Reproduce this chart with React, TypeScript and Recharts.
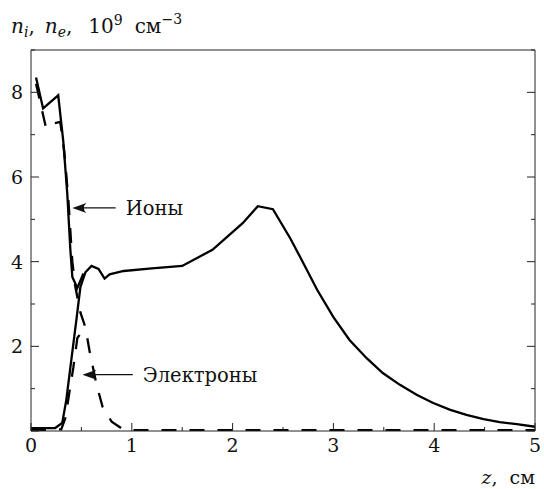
import { LineChart, Line, XAxis, YAxis, ReferenceLine } from "recharts";

// ion density, first (left) branch
const ionsLeft = [
  { x: 0.05, y: 8.35 }, { x: 0.12, y: 7.62 }, { x: 0.27, y: 7.93 }, { x: 0.32, y: 6.85 },
  { x: 0.36, y: 5.6 }, { x: 0.39, y: 4.3 }, { x: 0.41, y: 3.64 }, { x: 0.46, y: 3.38 },
  { x: 0.52, y: 3.72 },
];

// ion density, main branch
const ionsMain = [
  { x: 0, y: 0.07 }, { x: 0.24, y: 0.07 }, { x: 0.31, y: 0.19 }, { x: 0.35, y: 0.73 },
  { x: 0.4, y: 1.68 }, { x: 0.45, y: 2.62 }, { x: 0.49, y: 3.4 }, { x: 0.54, y: 3.75 },
  { x: 0.6, y: 3.9 }, { x: 0.67, y: 3.83 }, { x: 0.73, y: 3.6 }, { x: 0.78, y: 3.7 },
  { x: 0.92, y: 3.78 }, { x: 1.2, y: 3.84 }, { x: 1.5, y: 3.9 }, { x: 1.8, y: 4.28 },
  { x: 2.1, y: 4.91 }, { x: 2.25, y: 5.31 }, { x: 2.4, y: 5.24 }, { x: 2.57, y: 4.56 },
  { x: 2.67, y: 4.11 }, { x: 2.84, y: 3.33 }, { x: 3.0, y: 2.69 }, { x: 3.16, y: 2.15 },
  { x: 3.33, y: 1.72 }, { x: 3.49, y: 1.37 }, { x: 3.66, y: 1.09 }, { x: 3.83, y: 0.85 },
  { x: 3.99, y: 0.66 }, { x: 4.16, y: 0.5 }, { x: 4.32, y: 0.38 }, { x: 4.49, y: 0.28 },
  { x: 4.65, y: 0.21 }, { x: 4.82, y: 0.16 }, { x: 5.0, y: 0.1 },
];

// electron density, main branch
const electronsMain = [
  { x: 0.05, y: 8.2 }, { x: 0.15, y: 7.15 }, { x: 0.2, y: 7.25 }, { x: 0.29, y: 7.3 },
  { x: 0.33, y: 6.6 }, { x: 0.37, y: 5.5 }, { x: 0.41, y: 4.0 }, { x: 0.44, y: 3.4 },
  { x: 0.49, y: 2.8 }, { x: 0.54, y: 2.45 }, { x: 0.58, y: 1.9 }, { x: 0.65, y: 1.1 },
  { x: 0.71, y: 0.57 }, { x: 0.8, y: 0.22 }, { x: 0.92, y: 0.03 }, { x: 1.0, y: 0.02 },
  { x: 5.0, y: 0.02 },
];

// electron density, rising branch
const electronsRise = [
  { x: 0, y: 0.02 }, { x: 0.3, y: 0.04 }, { x: 0.34, y: 0.3 }, { x: 0.37, y: 0.75 },
  { x: 0.42, y: 1.5 }, { x: 0.46, y: 2.2 }, { x: 0.54, y: 2.45 },
];

const xTicks = [0, 0.5, 1, 1.5, 2, 2.5, 3, 3.5, 4, 4.5, 5];
const yTicks = [0, 1, 2, 3, 4, 5, 6, 7, 8, 9];
const yLabels = [2, 4, 6, 8];

const FONT = "'DejaVu Serif', serif";

const isMajor = (v: number) => v % 1 === 0;

const BottomTick = ({ x, y, payload }: any) => (
  <g>
    <line x1={x} y1={y} x2={x} y2={y - (isMajor(payload.value) ? 8 : 4)} stroke="#222" />
    {isMajor(payload.value) && (
      <text x={x} y={y + 21} textAnchor="middle" fontFamily={FONT} fontSize={19} fill="#111">
        {payload.value}
      </text>
    )}
  </g>
);

const TopTick = ({ x, y, payload }: any) => (
  <line x1={x} y1={y} x2={x} y2={y + (isMajor(payload.value) ? 8 : 4)} stroke="#222" />
);

const LeftTick = ({ x, y, payload }: any) => (
  <g>
    <line x1={x} y1={y} x2={x + (payload.value % 2 === 0 ? 8 : 4)} y2={y} stroke="#222" />
    {yLabels.includes(payload.value) && (
      <text x={x - 8} y={y + 7} textAnchor="end" fontFamily={FONT} fontSize={19} fill="#111">
        {payload.value}
      </text>
    )}
  </g>
);

const RightTick = ({ x, y, payload }: any) => (
  <line x1={x} y1={y} x2={x - (payload.value % 2 === 0 ? 8 : 4)} y2={y} stroke="#222" />
);

const Arrow = (text: string) => (props: any) => {
  const { x1, y1, x2 } = props;
  return (
    <g>
      <line x1={x1 + 8} y1={y1} x2={x2} y2={y1} stroke="#111" strokeWidth={1.3} />
      <path
        d={`M${x1},${y1} L${x1 + 14},${y1 - 5} Q${x1 + 9},${y1} ${x1 + 14},${y1 + 5} Z`}
        fill="#111"
      />
      <text x={x2 + 10} y={y1 + 7} fontFamily={FONT} fontSize={19.5} fill="#111">
        {text}
      </text>
    </g>
  );
};

const TitleLabel = ({ viewBox }: any) => (
  <text x={viewBox.x - 19} y={viewBox.y - 17} fontFamily={FONT} fontSize={20} fill="#111">
    <tspan fontStyle="italic">n</tspan>
    <tspan fontStyle="italic" fontSize={14} dy={4}>i</tspan>
    <tspan dy={-4}>,</tspan>
    <tspan fontStyle="italic" dx={10}>n</tspan>
    <tspan fontStyle="italic" fontSize={14} dy={4}>e</tspan>
    <tspan dy={-4}>,</tspan>
    <tspan dx={16}>10</tspan>
    <tspan fontSize={14} dy={-8}>9</tspan>
    <tspan dy={8} dx={12}>см</tspan>
    <tspan fontSize={14} dy={-9}>−3</tspan>
  </text>
);

const ZLabel = ({ viewBox }: any) => (
  <text x={viewBox.x + viewBox.width} y={viewBox.y + 53} textAnchor="end" fontFamily={FONT} fontSize={19} fill="#111">
    <tspan fontStyle="italic">z</tspan>
    <tspan>,</tspan>
    <tspan dx={12}>см</tspan>
  </text>
);

export default function App() {
  return (
    <div style={{ position: "absolute", left: 0, top: 0, background: "#fff" }}>
      <LineChart width={544} height={489} margin={{ top: 49, right: 8, bottom: 57, left: 30 }}>
        <XAxis
          dataKey="x"
          type="number"
          domain={[0, 5]}
          ticks={xTicks}
          allowDataOverflow
          height={1}
          tickSize={0}
          tickMargin={0}
          tickLine={false}
          axisLine={{ stroke: "#222" }}
          tick={BottomTick}
          interval={0}
          label={<ZLabel />}
        />
        <XAxis
          xAxisId="top"
          orientation="top"
          type="number"
          domain={[0, 5]}
          ticks={xTicks}
          allowDataOverflow
          height={1}
          tickSize={0}
          tickMargin={0}
          tickLine={false}
          axisLine={{ stroke: "#222" }}
          tick={TopTick}
          interval={0}
        />
        <YAxis
          type="number"
          domain={[0, 9]}
          ticks={yTicks}
          allowDataOverflow
          width={1}
          tickSize={0}
          tickMargin={0}
          tickLine={false}
          axisLine={{ stroke: "#222" }}
          tick={LeftTick}
          interval={0}
          label={<TitleLabel />}
        />
        <YAxis
          yAxisId="right"
          orientation="right"
          type="number"
          domain={[0, 9]}
          ticks={yTicks}
          allowDataOverflow
          width={1}
          tickSize={0}
          tickMargin={0}
          tickLine={false}
          axisLine={{ stroke: "#222" }}
          tick={RightTick}
          interval={0}
        />
        <Line data={electronsMain} dataKey="y" type="linear" stroke="#000" strokeWidth={2.3} strokeDasharray="15 13" dot={false} isAnimationActive={false} />
        <Line data={electronsRise} dataKey="y" type="linear" stroke="#000" strokeWidth={2.3} strokeDasharray="15 13" dot={false} isAnimationActive={false} />
        <Line data={ionsLeft} dataKey="y" type="linear" stroke="#000" strokeWidth={2.3} dot={false} isAnimationActive={false} />
        <Line data={ionsMain} dataKey="y" type="linear" stroke="#000" strokeWidth={2.3} dot={false} isAnimationActive={false} />
        <ReferenceLine
          segment={[{ x: 0.41, y: 5.27 }, { x: 0.84, y: 5.27 }]}
          shape={Arrow("Ионы")}
        />
        <ReferenceLine
          segment={[{ x: 0.51, y: 1.33 }, { x: 1.01, y: 1.33 }]}
          shape={Arrow("Электроны")}
        />
      </LineChart>
    </div>
  );
}
